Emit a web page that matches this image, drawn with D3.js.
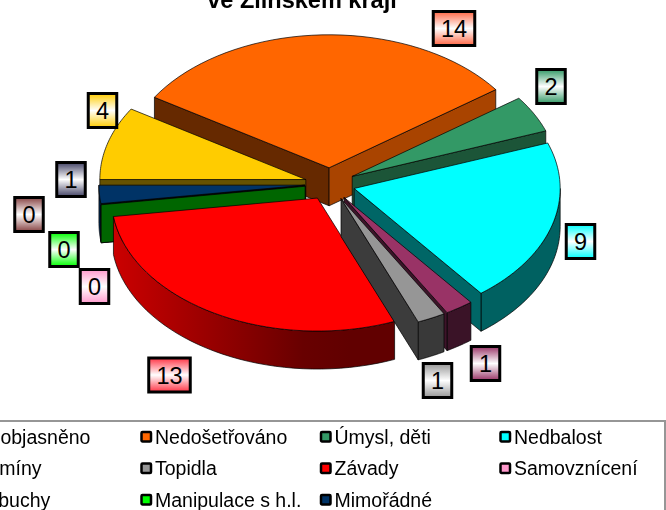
<!DOCTYPE html>
<html>
<head>
<meta charset="utf-8">
<script src="https://cdn.jsdelivr.net/npm/d3@7"></script>
<style>
  html, body { margin: 0; padding: 0; background: #fff; }
  svg { display: block; font-family: "Liberation Sans", Arial, sans-serif; filter: blur(0.35px); }
</style>
</head>
<body>
<div id="chart"></div>
<script>
const titleText = "ve Zlínském kraji";
const categories = ["Neobjasněno", "Nedošetřováno", "Úmysl, děti", "Nedbalost", "Komíny", "Topidla",
    "Závady", "Samovznícení", "Výbuchy", "Manipulace s h.l.", "Mimořádné"];
const values = [4, 14, 2, 9, 1, 1, 13, 0, 0, 0, 1];
const colors = ["#ffcc00", "#ff6600", "#339966", "#00ffff", "#993366", "#969696",
    "#ff0000", "#ff99cc", "#993333", "#00ff00", "#003366"];
const labelColors = ["#ffcc00", "#ff6644", "#339966", "#00ffff", "#993366", "#969696",
    "#ff3344", "#ff99cc", "#884444", "#00ff00", "#444466"];

// data labels were placed by hand in the original, so they get their own anchors
const labelAnchors = [[102.5, 110.5], [454, 28.5], [551, 86.5], [580.5, 241.5], [485.5, 363.5], [437.5, 380.5],
    [169.5, 375], [94.5, 286.5], [29, 214.5], [64, 249.5], [71, 179.5]];

function renderPie(selector) {
    const width = 666, height = 510;
    const center = {x: 330, y: 184};
    const rx = 206, ry = 133, depth = 38, explode = 0.122;

    const svg = d3.select(selector).append("svg")
        .attr("width", width)
        .attr("height", height)
        .attr("viewBox", `0 0 ${width} ${height}`);
    const defs = svg.append("defs");

    const pie = d3.pie()
        .sort(null)
        .value(d => d.value)
        .startAngle(-Math.PI / 2)
        .endAngle(1.5 * Math.PI);

    const slices = pie(categories.map((name, i) => ({name, value: values[i], color: colors[i], i})));

    const shade = (color, k) => {
        const c = d3.rgb(color);
        return d3.rgb(c.r * k, c.g * k, c.b * k).formatHex();
    };

    const line = d3.line().x(p => p[0]).y(p => p[1]);

    slices.forEach(s => {
        const mid = (s.startAngle + s.endAngle) / 2;
        s.mid = mid;
        s.cx = center.x + explode * rx * Math.sin(mid);
        s.cy = center.y - explode * ry * Math.cos(mid);
        s.rim = a => [s.cx + rx * Math.sin(a), s.cy - ry * Math.cos(a)];
    });

    const arcPoints = (s, a0, a1) => d3.range(0, 41).map(k => s.rim(a0 + (a1 - a0) * k / 40));
    const down = p => [p[0], p[1] + depth];

    const stroke = g => g.attr("stroke", "#000").attr("stroke-opacity", 0.7).attr("stroke-width", 1)
        .attr("stroke-linejoin", "round");

    // back to front
    const order = slices.slice().sort((a, b) => Math.cos(b.mid) - Math.cos(a.mid));

    order.forEach(s => {
        const g = svg.append("g").attr("class", "slice");
        const apex = [s.cx, s.cy];

        // start side wall, seen when the cut faces the viewer
        if (Math.sin(s.startAngle) < 0) {
            const e = s.rim(s.startAngle);
            g.append("path")
                .attr("d", line([apex, e, down(e), down(apex)]) + "Z")
                .attr("fill", shade(s.data.color, 0.4))
                .call(stroke);
        }

        // outer wall, only the part of the rim on the near side
        const from = Math.max(s.startAngle, Math.PI / 2);
        const to = Math.min(s.endAngle, 1.5 * Math.PI);
        if (to > from) {
            const id = `rim-${s.data.i}`;
            const k = a => 0.38 + 0.42 * Math.max(0, -Math.sin(a));
            const x1 = s.rim(from)[0], x2 = s.rim(to)[0];
            const grad = defs.append("linearGradient")
                .attr("id", id)
                .attr("gradientUnits", "userSpaceOnUse")
                .attr("x1", x1).attr("x2", x2)
                .attr("y1", 0).attr("y2", 0);
            d3.range(0, 9).forEach(n => {
                const a = from + (to - from) * n / 8;
                grad.append("stop")
                    .attr("offset", (s.rim(a)[0] - x1) / (x2 - x1))
                    .attr("stop-color", shade(s.data.color, k(a)));
            });
            const top = arcPoints(s, from, to);
            g.append("path")
                .attr("d", line(top.concat(top.map(down).reverse())) + "Z")
                .attr("fill", `url(#${id})`)
                .call(stroke);
        }

        // end side wall
        if (Math.sin(s.endAngle) > 0) {
            const e = s.rim(s.endAngle);
            g.append("path")
                .attr("d", line([apex, e, down(e), down(apex)]) + "Z")
                .attr("fill", shade(s.data.color, 0.4 + 0.45 * Math.max(0, Math.cos(s.endAngle))))
                .call(stroke);
        }

        // top face
        if (s.data.value > 0) {
            g.append("path")
                .attr("d", line([apex].concat(arcPoints(s, s.startAngle, s.endAngle))) + "Z")
                .attr("fill", s.data.color)
                .call(stroke);
        }
    });

    svg.append("text")
        .attr("x", 302)
        .attr("y", 8)
        .attr("text-anchor", "middle")
        .attr("font-size", 23.5)
        .attr("font-weight", "bold")
        .text(titleText);

    // data labels
    const labels = svg.selectAll(".data-label")
        .data(slices)
        .enter()
        .append("g")
        .attr("class", "data-label")
        .attr("transform", (d, i) => `translate(${labelAnchors[i][0]}, ${labelAnchors[i][1]})`);

    slices.forEach(s => {
        const grad = defs.append("linearGradient")
            .attr("id", `label-${s.data.i}`)
            .attr("x1", 0).attr("x2", 0).attr("y1", 0).attr("y2", 1);
        const tint = labelColors[s.data.i];
        grad.append("stop").attr("offset", 0).attr("stop-color", tint);
        grad.append("stop").attr("offset", 0.5).attr("stop-color", "#fff");
        grad.append("stop").attr("offset", 1).attr("stop-color", tint);
    });

    const boxWidth = d => (String(d.data.value).length > 1 ? 41.5 : 28.5);
    labels.append("rect")
        .attr("x", d => -boxWidth(d) / 2)
        .attr("y", -17)
        .attr("width", boxWidth)
        .attr("height", 34)
        .attr("fill", d => `url(#label-${d.data.i})`)
        .attr("stroke", "#000")
        .attr("stroke-width", 3);

    labels.append("text")
        .attr("text-anchor", "middle")
        .attr("y", 8.5)
        .attr("font-size", 23.5)
        .text(d => d.data.value);

    // legend, its left side runs off the page
    const legendX = d3.scaleLinear().domain([0, 1]).range([140.5, 320]);
    const legendY = d3.scaleLinear().domain([0, 1]).range([437, 468.5]);

    svg.append("rect")
        .attr("x", -4)
        .attr("y", 421)
        .attr("width", 669)
        .attr("height", 100)
        .attr("fill", "#fff")
        .attr("stroke", "#969696")
        .attr("stroke-width", 2);

    const items = svg.selectAll(".legend-item")
        .data(slices)
        .enter()
        .append("g")
        .attr("class", "legend-item")
        .attr("transform", (d, i) => `translate(${legendX(i % 4 - 1)}, ${legendY(Math.floor(i / 4))})`);

    items.append("rect")
        .attr("x", 1)
        .attr("y", -5)
        .attr("width", 9.5)
        .attr("height", 9.5)
        .attr("rx", 1)
        .attr("fill", d => d.data.color)
        .attr("stroke", "#000")
        .attr("stroke-width", 2.5);

    items.append("text")
        .attr("x", 14.5)
        .attr("y", 6.5)
        .attr("font-size", 19.5)
        .text(d => d.data.name);
}

renderPie("#chart");
</script>
</body>
</html>
